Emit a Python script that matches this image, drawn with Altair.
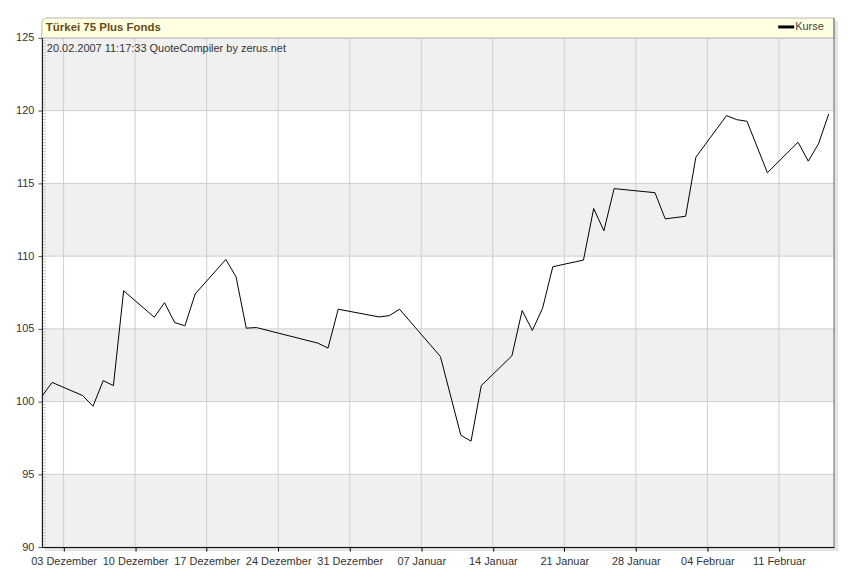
import altair as alt
import pandas as pd
import numpy as np

# ---- data ----
dates = [
    "2006-11-30", "2006-12-01", "2006-12-04", "2006-12-05", "2006-12-06", "2006-12-07",
    "2006-12-08", "2006-12-11", "2006-12-12", "2006-12-13", "2006-12-14", "2006-12-15",
    "2006-12-18", "2006-12-19", "2006-12-20", "2006-12-21", "2006-12-27", "2006-12-28",
    "2006-12-29", "2007-01-02", "2007-01-03", "2007-01-04", "2007-01-08", "2007-01-10",
    "2007-01-11", "2007-01-12", "2007-01-15", "2007-01-16", "2007-01-17", "2007-01-18",
    "2007-01-19", "2007-01-22", "2007-01-23", "2007-01-24", "2007-01-25", "2007-01-29",
    "2007-01-30", "2007-02-01", "2007-02-02", "2007-02-05", "2007-02-06", "2007-02-07",
    "2007-02-09", "2007-02-12", "2007-02-13", "2007-02-14", "2007-02-15",
]
kurse = [
    100.36, 101.32, 100.41, 99.68, 101.44, 101.10,
    107.62, 105.80, 106.80, 105.43, 105.21, 107.40,
    109.77, 108.58, 105.05, 105.09, 104.02, 103.68,
    106.35, 105.82, 105.91, 106.35, 103.10, 97.69,
    97.28, 101.10, 103.15, 106.26, 104.89, 106.42,
    109.27, 109.73, 113.27, 111.74, 114.64, 114.36,
    112.56, 112.74, 116.80, 119.66, 119.38, 119.27,
    115.73, 117.83, 116.53, 117.72, 119.77,
]
x_ticks = ["2006-12-03", "2006-12-10", "2006-12-17", "2006-12-24", "2006-12-31",
           "2007-01-07", "2007-01-14", "2007-01-21", "2007-01-28", "2007-02-04",
           "2007-02-11"]
y_ticks = [90, 95, 100, 105, 110, 115, 120, 125]
band_lo = [90, 100, 110, 120]
band_hi = [95, 105, 115, 125]
month_names = ["Januar", "Februar", "März", "April", "Mai", "Juni", "Juli",
               "August", "September", "Oktober", "November", "Dezember"]
title_text = "Türkei 75 Plus Fonds"
subtitle_text = "20.02.2007 11:17:33 QuoteCompiler by zerus.net"
legend_text = "Kurse"

W, H = 795, 511
FONT = "Liberation Sans"

# quotes are stamped in the evening of each trading day
df = pd.DataFrame({"date": pd.to_datetime(dates) + pd.Timedelta(hours=21), "kurs": kurse})
ticks_df = pd.DataFrame({"date": pd.to_datetime(x_ticks)})
ygrid_df = pd.DataFrame({"kurs": y_ticks})
bands_df = pd.DataFrame({"kurs": band_lo, "hi": band_hi})
minor_df = pd.DataFrame({"kurs": np.round(np.arange(90, 125.001, 0.2), 2)})
one = pd.DataFrame({"a": [0]})


def to_dt(s):
    ts = pd.Timestamp(s)
    return alt.DateTime(year=ts.year, month=ts.month, date=ts.day,
                        hours=ts.hour, minutes=ts.minute)


xscale = alt.Scale(domain=[alt.DateTime(year=2006, month=11, date=30, hours=21),
                           alt.DateTime(year=2007, month=2, date=16, hours=9, minutes=30)])
yscale = alt.Scale(domain=[90, 125], nice=False, zero=False)

months_js = "[" + ",".join("'" + m + "'" for m in month_names) + "]"

x_axis = alt.Axis(values=[to_dt(t) for t in x_ticks], grid=False,
                  labelExpr="timeFormat(datum.value, '%d') + ' ' + " + months_js + "[month(datum.value)]",
                  domainColor="black", tickColor="black", tickSize=4,
                  labelFont=FONT, labelFontSize=11, labelColor="#333333",
                  labelPadding=4, zindex=1, labelOverlap=False)
y_axis = alt.Axis(values=y_ticks, grid=False, domainColor="black",
                  tickColor="#555555", tickSize=4, labelFont=FONT,
                  labelFontSize=11, labelColor="#333333", labelPadding=4,
                  zindex=1)
X = alt.X("date:T", scale=xscale, title=None, axis=x_axis)
Y = alt.Y("kurs:Q", scale=yscale, title=None, axis=y_axis)

shadow = alt.Chart(one).mark_rect(fill="#e4e4e4").encode(
    x=alt.value(3), x2=alt.value(W + 4), y=alt.value(-17), y2=alt.value(H + 4))
base_rect = alt.Chart(one).mark_rect(fill="white").encode(
    x=alt.value(0), x2=alt.value(W), y=alt.value(0), y2=alt.value(H))
bands = alt.Chart(bands_df).mark_rect(fill="#f0f0f0").encode(
    x=alt.value(0), x2=alt.value(W), y=Y, y2="hi:Q")
vgrid = alt.Chart(ticks_df).mark_rule(color="#cfcfcf", strokeWidth=1).encode(x=X)
hgrid = alt.Chart(ygrid_df).mark_rule(color="#cfcfcf", strokeWidth=1).encode(y=Y)
minor = alt.Chart(minor_df).mark_rule(color="#c4c4c4", strokeWidth=1).encode(
    y=Y, x=alt.value(0), x2=alt.value(4))

line = alt.Chart(df).mark_line(color="black", strokeWidth=1, clip=False).encode(x=X, y=Y)

title_bar = alt.Chart(one).mark_rect(fill="#ffffe1", stroke="#b8b8b8", strokeWidth=1,
                                     cornerRadiusTopLeft=5).encode(
    x=alt.value(0), x2=alt.value(W), y=alt.value(-20), y2=alt.value(0))
right_border = alt.Chart(one).mark_rule(color="#666666", strokeWidth=1).encode(
    x=alt.value(W), y=alt.value(-20), y2=alt.value(H))
title = alt.Chart(one).mark_text(text=title_text, font=FONT, fontSize=11.5, fontWeight="bold",
                                 color="#6b4a17", align="left", baseline="middle").encode(
    x=alt.value(4), y=alt.value(-10))
subtitle = alt.Chart(one).mark_text(text=subtitle_text, font=FONT, fontSize=11,
                                    color="#333333", align="left", baseline="middle").encode(
    x=alt.value(5), y=alt.value(11))
leg_line = alt.Chart(one).mark_rule(color="black", strokeWidth=3).encode(
    x=alt.value(739), x2=alt.value(755), y=alt.value(-11))
leg_text = alt.Chart(one).mark_text(text=legend_text, font=FONT, fontSize=11,
                                    color="#444444", align="left", baseline="middle").encode(
    x=alt.value(756), y=alt.value(-11))

chart = alt.layer(
    shadow, base_rect, bands, vgrid, hgrid, minor, line,
    title_bar, right_border, title, subtitle, leg_line, leg_text,
).properties(
    width=W, height=H,
    autosize=alt.AutoSizeParams(type="none"),
    padding={"left": 34, "top": 29, "right": 10, "bottom": 26},
).configure_view(stroke=None)

chart.save("out.html", embed_options={"renderer": "svg", "actions": False})
